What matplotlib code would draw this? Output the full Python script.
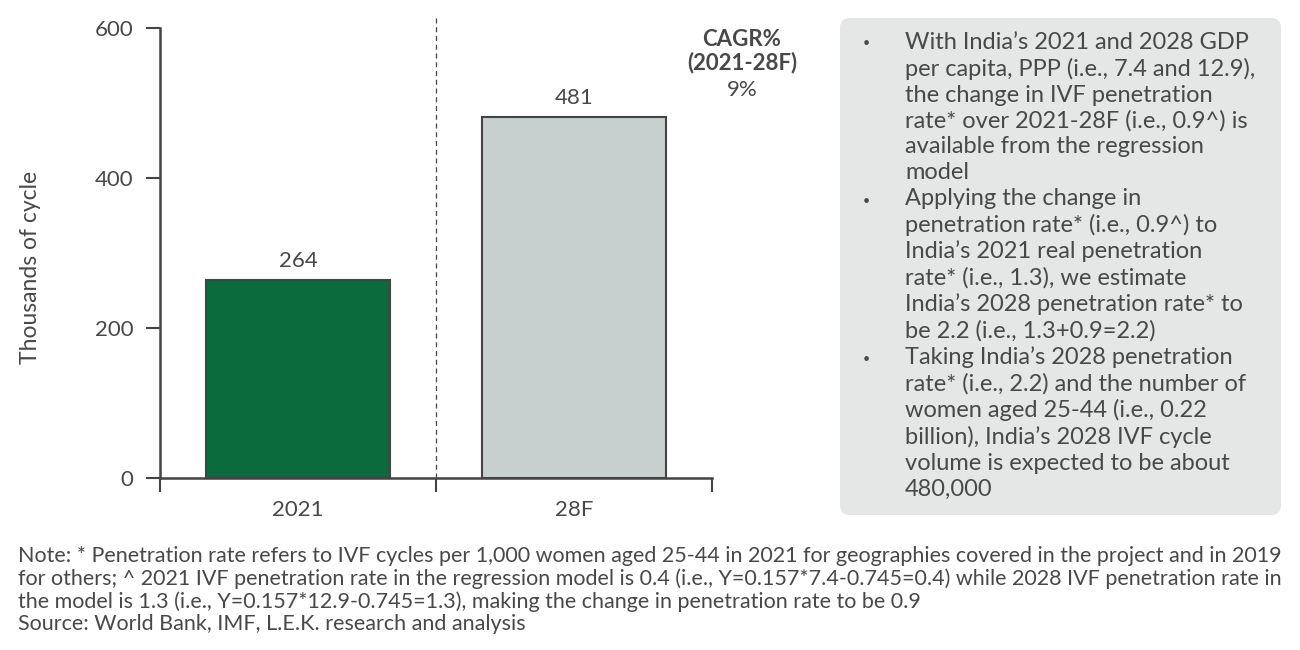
import matplotlib.pyplot as plt
from matplotlib.patches import FancyBboxPatch

plt.rcParams['font.family'] = ['Lato', 'DejaVu Sans']

# data
categories = ['2021', '28F']
values = [264, 481]
bar_colors = ['#0b6b3d', '#c8d0cf']
y_ticks = [0, 200, 400, 600]
cagr_lines = ['CAGR%', '(2021-28F)', '9%']

bullets = [
    "With India\u2019s 2021 and 2028 GDP\nper capita, PPP (i.e., 7.4 and 12.9),\nthe change in IVF penetration\nrate* over 2021-28F (i.e., 0.9^) is\navailable from the regression\nmodel",
    "Applying the change in\npenetration rate* (i.e., 0.9^) to\nIndia\u2019s 2021 real penetration\nrate* (i.e., 1.3), we estimate\nIndia\u2019s 2028 penetration rate* to\nbe 2.2 (i.e., 1.3+0.9=2.2)",
    "Taking India\u2019s 2028 penetration\nrate* (i.e., 2.2) and the number of\nwomen aged 25-44 (i.e., 0.22\nbillion), India\u2019s 2028 IVF cycle\nvolume is expected to be about\n480,000",
]
note = ("Note: * Penetration rate refers to IVF cycles per 1,000 women aged 25-44 in 2021 for geographies covered in the project and in 2019\n"
        "for others; ^ 2021 IVF penetration rate in the regression model is 0.4 (i.e., Y=0.157*7.4-0.745=0.4) while 2028 IVF penetration rate in\n"
        "the model is 1.3 (i.e., Y=0.157*12.9-0.745=1.3), making the change in penetration rate to be 0.9\n"
        "Source: World Bank, IMF, L.E.K. research and analysis")

txt = '#484848'
dark = '#444444'

fig = plt.figure(figsize=(13, 6.5), dpi=100)

ax = fig.add_axes([160/1300, 1-478/650, (712-160)/1300, (478-28)/650])
x = list(range(len(categories)))
bars = ax.bar(x, values, width=0.67, color=bar_colors, edgecolor=dark, linewidth=1.5, zorder=2)
for b, v in zip(bars, values):
    ax.text(b.get_x() + b.get_width()/2, v + 12, str(v), ha='center', va='bottom',
            fontsize=16, color=txt)

ax.set_xlim(-0.5, 1.5)
ax.set_ylim(0, 600)
ax.set_yticks(y_ticks)
ax.set_xticks(x)
ax.set_xticklabels(categories)
ax.set_xticks([-0.5, 0.5, 1.5], minor=True)
ax.tick_params(axis='x', which='major', length=0, pad=16, labelsize=16, labelcolor=txt)
ax.tick_params(axis='x', which='minor', length=10, width=1.5, color=dark, direction='out')
ax.tick_params(axis='y', length=10, width=1.5, color=dark, pad=9, labelsize=16, labelcolor=txt)
for s in ['top', 'right']:
    ax.spines[s].set_visible(False)
for s in ['left', 'bottom']:
    ax.spines[s].set_color(dark)
    ax.spines[s].set_linewidth(1.8)
ax.set_ylabel('Thousands of cycle', fontsize=16.5, color=txt)
ax.yaxis.label.set_va('center')
ax.yaxis.set_label_coords(-0.234, 0.467)
ax.axvline(0.5, ymin=0, ymax=1.022, color=dark, linestyle=(0, (4, 3)), linewidth=0.9, clip_on=False)

# overlay in pixel coords for the side box and notes
ov = fig.add_axes([0, 0, 1, 1])
ov.set_zorder(3)
ov.set_xlim(0, 1300)
ov.set_ylim(650, 0)
ov.axis('off')

# CAGR annotation
ov.text(742, 39, cagr_lines[0], ha='center', va='center', fontsize=16, fontweight='bold', color=txt)
ov.text(742, 63, cagr_lines[1], ha='center', va='center', fontsize=16, fontweight='bold', color=txt)
ov.text(742, 90, cagr_lines[2], ha='center', va='center', fontsize=16, color=txt)

# side box
box = FancyBboxPatch((848, 26), 425, 481, boxstyle='round,pad=8,rounding_size=10',
                     facecolor='#e4e7e6', edgecolor='none')
ov.add_patch(box)
body = '\n'.join(bullets)
ov.text(905, 32, body, ha='left', va='top', fontsize=17, color=txt, linespacing=1.27)
pitch = 26.3
line = 0
for b in bullets:
    ov.text(866, 43 + pitch * line, '\u2022', ha='center', va='center', fontsize=9, color=txt)
    line += b.count('\n') + 1

ov.text(18, 546, note, ha='left', va='top', fontsize=15.5, color=txt, linespacing=1.13)

fig.savefig('out.png', dpi=100)
